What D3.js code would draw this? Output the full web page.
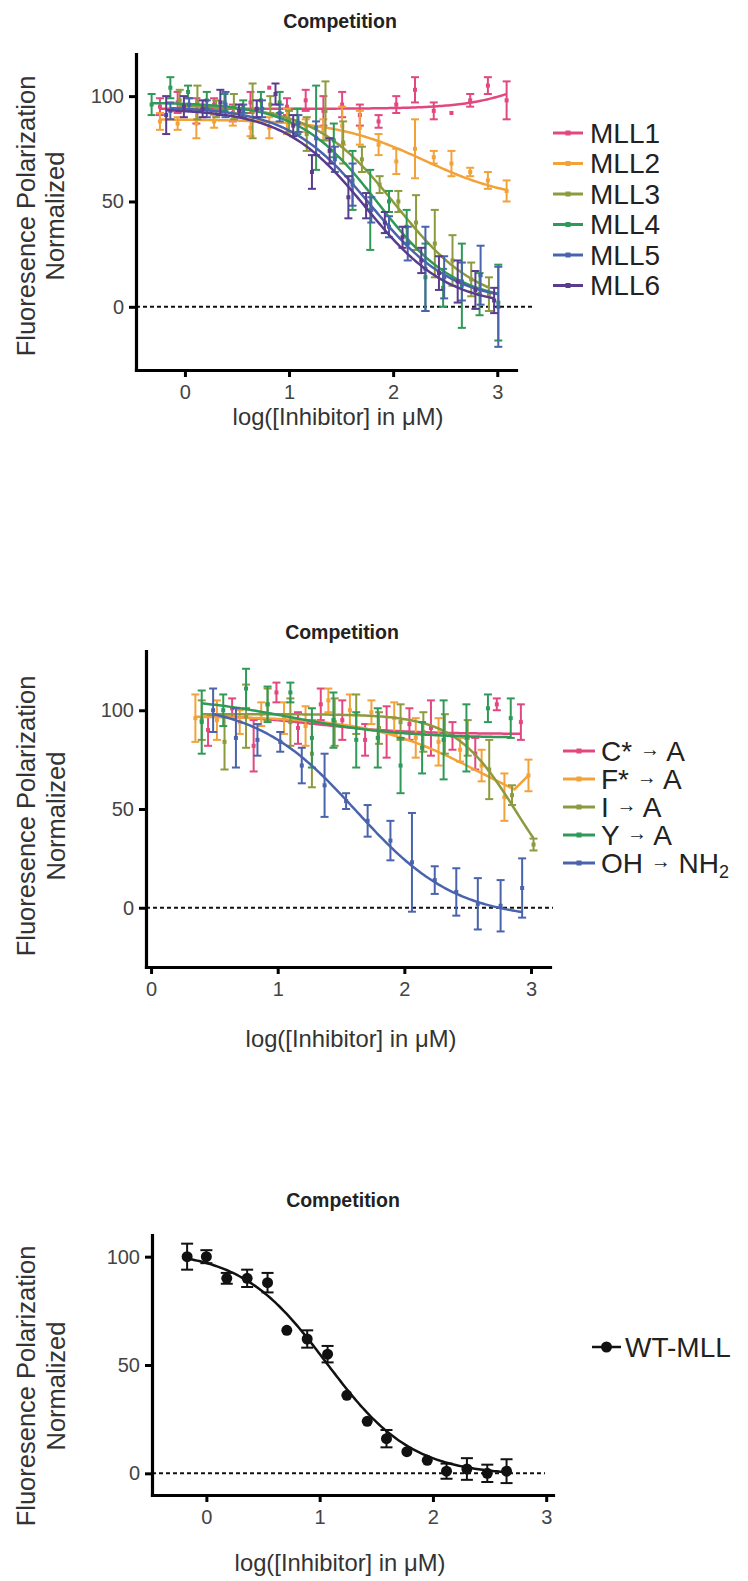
<!DOCTYPE html>
<html>
<head>
<meta charset="utf-8">
<script src="https://cdn.jsdelivr.net/npm/d3@7"></script>
<style>
  html, body { margin: 0; padding: 0; background: #fff; }
  svg { display: block; font-family: "Liberation Sans", Arial, Helvetica, sans-serif; }
</style>
</head>
<body>
<svg id="fig" width="748" height="1581"></svg>
<script>
// ---------- Panel A: MLL peptides ----------
const mllNames  = ["MLL1", "MLL2", "MLL3", "MLL4", "MLL5", "MLL6"];
const mllColors = ["#e2487f", "#f3a23a", "#8e9a3e", "#2f9a58", "#4a63ad", "#5a3c8e"];

const mll1X   = [-0.24, -0.07, 0.11, 0.28, 0.46, 0.63, 0.81, 0.98, 1.16, 1.33, 1.51, 1.68, 1.86, 2.03, 2.21, 2.39, 2.56, 2.74, 2.91, 3.09];
const mll1Y   = [95, 97, 93, 96, 92, 97, 104, 95, 98, 93, 96, 91, 88, 96, 103, 93, 92, 98, 105, 98];
const mll1Err = [4, 5, 6, 3, 4, 5, 0, 4, 5, 7, 6, 5, 3, 4, 6, 4, 0, 3, 4, 9];

const mll2X   = [-0.24, -0.07, 0.11, 0.28, 0.46, 0.63, 0.81, 0.98, 1.16, 1.33, 1.51, 1.68, 1.86, 2.03, 2.21, 2.39, 2.56, 2.74, 2.91, 3.09];
const mll2Y   = [88, 87, 87, 88, 89, 85, 85, 88, 86, 84, 86, 85, 77, 69, 75, 71, 68, 64, 60, 55];
const mll2Err = [4, 3, 7, 3, 3, 4, 5, 6, 3, 5, 9, 8, 5, 6, 14, 3, 6, 2, 4, 5];

const mll3X   = [-0.05, 0.12, 0.30, 0.47, 0.65, 0.82, 1.00, 1.17, 1.35, 1.52, 1.70, 1.87, 2.05, 2.22, 2.40, 2.57, 2.75, 2.92];
const mll3Y   = [98, 97, 94, 95, 93, 96, 88, 82, 93, 78, 70, 58, 50, 40, 30, 22, 13, 6];
const mll3Err = [5, 8, 4, 6, 13, 4, 5, 8, 14, 10, 6, 4, 5, 13, 16, 12, 8, 8];

const mll4X   = [-0.32, -0.14, 0.03, 0.21, 0.38, 0.56, 0.73, 0.91, 1.08, 1.26, 1.43, 1.61, 1.78, 1.96, 2.13, 2.31, 2.48, 2.66, 2.83, 3.01];
const mll4Y   = [96, 104, 102, 98, 97, 95, 98, 97, 88, 85, 79, 60, 46, 50, 38, 14, 9, 10, 6, 2];
const mll4Err = [5, 5, 3, 4, 4, 3, 4, 5, 6, 20, 8, 14, 19, 5, 8, 16, 9, 20, 10, 18];

const mll5X   = [-0.14, 0.04, 0.21, 0.39, 0.56, 0.74, 0.91, 1.09, 1.26, 1.44, 1.61, 1.79, 1.96, 2.14, 2.31, 2.49, 2.66, 2.84, 3.01];
const mll5Y   = [93, 96, 94, 96, 93, 94, 92, 87, 80, 70, 58, 46, 38, 30, 18, 14, 12, 15, 0];
const mll5Err = [4, 3, 4, 6, 3, 4, 4, 4, 8, 6, 10, 6, 5, 8, 20, 10, 9, 14, 19];

const mll6X   = [-0.18, -0.01, 0.17, 0.34, 0.52, 0.69, 0.87, 1.04, 1.22, 1.39, 1.57, 1.74, 1.92, 2.09, 2.27, 2.44, 2.62, 2.79, 2.97];
const mll6Y   = [91, 95, 94, 97, 93, 94, 101, 86, 64, 74, 52, 48, 40, 33, 22, 16, 12, 8, 3];
const mll6Err = [9, 5, 4, 6, 3, 4, 5, 5, 8, 6, 10, 6, 5, 5, 6, 8, 10, 9, 6];

// four-parameter logistic fits: [top, bottom, logIC50, hill]
const mllFitTop     = [94, 89, 96, 97, 95, 94];
const mllFitBottom  = [125, 50, 0, 2, 2, 0];
const mllFitLogIC50 = [3.5, 2.3, 2.03, 1.85, 1.78, 1.74];
const mllFitHill    = [1.3, 1.0, 1.1, 1.15, 1.1, 1.1];

// ---------- Panel B: point mutants ----------
const mutNames   = ["C*", "F*", "I", "Y", "OH"];
const mutTargets = ["A", "A", "A", "A", "NH"];
const mutColors  = ["#e2487f", "#f3a23a", "#8e9a3e", "#2f9a58", "#4a63ad"];

const cAX   = [0.45, 0.64, 0.81, 0.99, 1.16, 1.34, 1.51, 1.69, 1.86, 2.04, 2.21, 2.38, 2.56, 2.73, 2.92];
const cAY   = [90, 101, 82, 109, 91, 103, 95, 85, 89, 93, 91, 87, 78, 103, 94];
const cAErr = [8, 5, 13, 5, 8, 8, 10, 8, 13, 8, 14, 7, 8, 3, 9];

const fAX   = [0.35, 0.52, 0.70, 0.87, 1.05, 1.22, 1.40, 1.57, 1.74, 1.92, 2.09, 2.27, 2.44, 2.61, 2.79, 2.98];
const fAY   = [96, 95, 94, 98, 96, 92, 105, 100, 99, 96, 86, 84, 80, 72, 56, 67];
const fAErr = [12, 10, 6, 6, 8, 10, 6, 8, 6, 8, 10, 12, 6, 8, 12, 8];

const iAX   = [0.40, 0.58, 0.75, 0.92, 1.10, 1.27, 1.45, 1.62, 1.80, 1.97, 2.15, 2.32, 2.50, 2.67, 2.85, 3.02];
const iAY   = [95, 84, 97, 103, 94, 78, 94, 98, 91, 94, 89, 88, 86, 70, 57, 32];
const iAErr = [10, 14, 16, 8, 12, 17, 12, 10, 8, 9, 10, 10, 9, 15, 5, 3];

const yAX   = [0.40, 0.57, 0.75, 0.92, 1.10, 1.27, 1.44, 1.62, 1.79, 1.97, 2.14, 2.31, 2.49, 2.66, 2.84];
const yAY   = [94, 100, 111, 103, 109, 86, 95, 85, 86, 72, 81, 85, 86, 101, 96];
const yAErr = [16, 8, 10, 9, 5, 15, 14, 14, 15, 14, 13, 20, 17, 7, 10];

const ohX   = [0.49, 0.67, 0.84, 1.02, 1.19, 1.37, 1.54, 1.71, 1.89, 2.06, 2.24, 2.41, 2.58, 2.76, 2.93];
const ohY   = [100, 86, 85, 84, 72, 62, 54, 44, 34, 23, 14, 8, 2, 1, 10];
const ohErr = [11, 15, 8, 5, 9, 16, 4, 8, 10, 25, 7, 12, 13, 13, 15];

const mutFitTop     = [98, 97, 98, 107, 104];
const mutFitBottom  = [88, 40, 0, 86, -6];
const mutFitLogIC50 = [1.3, 2.6, 2.88, 1.1, 1.62];
const mutFitHill    = [1.2, 1.0, 1.8, 1.0, 1.1];

// ---------- Panel C: wild-type ----------
const wtName = "WT-MLL";
const wtX   = [-0.17, 0.00, 0.18, 0.36, 0.54, 0.71, 0.89, 1.07, 1.24, 1.42, 1.59, 1.77, 1.95, 2.12, 2.30, 2.48, 2.65];
const wtY   = [100, 100, 90, 90, 88, 66, 62, 55, 36, 24, 16, 10, 6, 1, 2, 0, 1];
const wtErr = [6, 3, 2.5, 4, 4.5, 0, 4, 3.8, 0, 0, 4, 0, 0, 3.5, 5, 4, 5.5];
const wtFit = [103, -1, 1.06, 1.15];

const xTicks = [0, 1, 2, 3];
const yTicks = [0, 50, 100];
const titleText = "Competition";
const yTitle1 = "Fluoresence Polarization";
const yTitle2 = "Normalized";
const xTitle = "log([Inhibitor] in \u03BCM)";

// ---------- drawing ----------
const svg = d3.select("#fig");
const fourPL = (x, top, bottom, c, h) => bottom + (top - bottom) / (1 + Math.pow(10, (x - c) * h));

function drawPanel(p) {
  const g = svg.append("g");
  const x = d3.scaleLinear().domain(p.xDomain).range([p.left, p.right]);
  const y = d3.scaleLinear().domain(p.yDomain).range([p.bottom, p.top]);

  g.append("text")
    .attr("x", p.titleX).attr("y", p.titleY)
    .attr("text-anchor", "middle").attr("dominant-baseline", "central")
    .attr("font-weight", "bold").attr("font-size", 19.5).attr("fill", "#222")
    .text(titleText);

  // dashed baseline at zero
  g.append("line")
    .attr("x1", p.left).attr("x2", p.zeroEnd)
    .attr("y1", y(0)).attr("y2", y(0))
    .attr("stroke", "#111").attr("stroke-width", 2)
    .attr("stroke-dasharray", "4,3");

  p.series.forEach(s => {
    // fitted curve
    const x0 = s.x[0];
    const x1 = s.fitEnd !== undefined ? s.fitEnd : s.x[s.x.length - 1];
    const pts = d3.range(0, 161).map(i => {
      const xv = x0 + (x1 - x0) * i / 160;
      return [xv, fourPL(xv, s.fit[0], s.fit[1], s.fit[2], s.fit[3])];
    });
    if (s.joinLast) pts.push([s.x[s.x.length - 1], s.y[s.y.length - 1]]);
    g.append("path").datum(pts)
      .attr("d", d3.line().x(d => x(d[0])).y(d => y(d[1])))
      .attr("fill", "none").attr("stroke", s.color)
      .attr("stroke-width", p.curveWidth).attr("stroke-linejoin", "round");

    const rows = s.x.map((xv, i) => ({ x: xv, y: s.y[i], e: s.err[i] }));
    const eb = g.append("g").attr("stroke", s.color).attr("stroke-width", p.errWidth);
    rows.filter(d => d.e > 0).forEach(d => {
      eb.append("line").attr("x1", x(d.x)).attr("x2", x(d.x))
        .attr("y1", y(d.y - d.e)).attr("y2", y(d.y + d.e));
      [d.y - d.e, d.y + d.e].forEach(v => {
        eb.append("line").attr("x1", x(d.x) - p.capHalf).attr("x2", x(d.x) + p.capHalf)
          .attr("y1", y(v)).attr("y2", y(v));
      });
    });

    if (p.marker === "circle") {
      g.append("g").selectAll("circle").data(rows).join("circle")
        .attr("cx", d => x(d.x)).attr("cy", d => y(d.y)).attr("r", 5.5)
        .attr("fill", s.color);
    } else {
      g.append("g").selectAll("rect").data(rows).join("rect")
        .attr("x", d => x(d.x) - 2).attr("y", d => y(d.y) - 2)
        .attr("width", 4).attr("height", 4).attr("fill", s.color);
    }
  });

  // axes
  const yAxis = g.append("g").attr("transform", `translate(${p.left},0)`)
    .call(d3.axisLeft(y).tickValues(yTicks).tickFormat(d3.format("d"))
      .tickSize(7).tickSizeOuter(0).tickPadding(5));
  const xAxis = g.append("g").attr("transform", `translate(0,${p.bottom})`)
    .call(d3.axisBottom(x).tickValues(xTicks).tickFormat(d3.format("d"))
      .tickSize(7).tickSizeOuter(0).tickPadding(8));
  [yAxis, xAxis].forEach(a => {
    a.select(".domain").attr("stroke", "#000").attr("stroke-width", 3.2).attr("stroke-linecap", "square");
    a.selectAll(".tick line").attr("stroke", "#000").attr("stroke-width", 3);
    a.selectAll(".tick text").attr("font-size", 20).attr("fill", "#444")
      .attr("font-family", "'Liberation Sans', Arial, sans-serif");
  });

  // axis titles
  [[p.yTitleX1, yTitle1], [p.yTitleX2, yTitle2]].forEach(([tx, label]) => {
    g.append("text")
      .attr("transform", `translate(${tx},${p.yTitleY}) rotate(-90)`)
      .attr("text-anchor", "middle").attr("dominant-baseline", "central")
      .attr("font-size", 25.5).attr("fill", "#333").text(label);
  });
  g.append("text")
    .attr("x", p.xTitleX).attr("y", p.xTitleY)
    .attr("text-anchor", "middle").attr("dominant-baseline", "central")
    .attr("font-size", 23.8).attr("fill", "#333").text(xTitle);

  // legend
  p.series.forEach((s, i) => {
    const ly = p.legendY + i * p.legendStep;
    const lg = g.append("g");
    lg.append("line").attr("x1", p.legendX1).attr("x2", p.legendX2)
      .attr("y1", ly).attr("y2", ly).attr("stroke", s.color).attr("stroke-width", p.marker === "circle" ? 2.5 : 3);
    const mx = (p.legendX1 + p.legendX2) / 2;
    if (p.marker === "circle") {
      lg.append("circle").attr("cx", mx).attr("cy", ly).attr("r", 5.5).attr("fill", s.color);
    } else {
      lg.append("rect").attr("x", mx - 2.5).attr("y", ly - 2.5).attr("width", 5).attr("height", 5).attr("fill", s.color);
    }
    const t = lg.append("text").attr("x", p.legendTextX).attr("y", ly)
      .attr("dominant-baseline", "central").attr("font-size", 28).attr("fill", "#222");
    s.label(t);
  });
}

const simpleLabel = name => t => t.text(name);
const arrowLabel = (from, to, sub) => t => {
  t.append("tspan").text(from + " ");
  t.append("tspan").attr("font-size", 20).attr("dy", -2).text("\u2192");
  t.append("tspan").attr("dy", 2).text(" " + to);
  if (sub) t.append("tspan").attr("font-size", 18).attr("dy", 9).text(sub);
};

const mllX = [mll1X, mll2X, mll3X, mll4X, mll5X, mll6X];
const mllY = [mll1Y, mll2Y, mll3Y, mll4Y, mll5Y, mll6Y];
const mllErr = [mll1Err, mll2Err, mll3Err, mll4Err, mll5Err, mll6Err];

drawPanel({
  left: 136, right: 516, top: 54, bottom: 370,
  xDomain: [-0.47, 3.18], yDomain: [-30, 120],
  titleX: 340, titleY: 21, xTitleX: 338, xTitleY: 416,
  yTitleX1: 26, yTitleX2: 55, yTitleY: 216, zeroEnd: 535,
  curveWidth: 2.5, errWidth: 2, capHalf: 4, marker: "square",
  legendY: 133, legendStep: 30.5, legendX1: 553, legendX2: 583, legendTextX: 590,
  series: mllNames.map((n, i) => ({
    x: mllX[i], y: mllY[i], err: mllErr[i], color: mllColors[i],
    fit: [mllFitTop[i], mllFitBottom[i], mllFitLogIC50[i], mllFitHill[i]],
    label: simpleLabel(n)
  }))
});

const mutX = [cAX, fAX, iAX, yAX, ohX];
const mutY = [cAY, fAY, iAY, yAY, ohY];
const mutErr = [cAErr, fAErr, iAErr, yAErr, ohErr];

drawPanel({
  left: 146, right: 550, top: 651, bottom: 967,
  xDomain: [-0.04, 3.15], yDomain: [-30, 130],
  titleX: 342, titleY: 632, xTitleX: 351, xTitleY: 1038,
  yTitleX1: 26, yTitleX2: 56, yTitleY: 816, zeroEnd: 553,
  curveWidth: 2.5, errWidth: 2, capHalf: 4, marker: "square",
  legendY: 751, legendStep: 28, legendX1: 563, legendX2: 595, legendTextX: 601,
  series: mutNames.map((n, i) => ({
    x: mutX[i], y: mutY[i], err: mutErr[i], color: mutColors[i],
    fit: [mutFitTop[i], mutFitBottom[i], mutFitLogIC50[i], mutFitHill[i]],
    fitEnd: i === 1 ? 2.87 : undefined, joinLast: i === 1,
    label: arrowLabel(n, mutTargets[i], i === 4 ? "2" : null)
  }))
});

drawPanel({
  left: 152, right: 553, top: 1235, bottom: 1495,
  xDomain: [-0.48, 3.06], yDomain: [-10, 110],
  titleX: 343, titleY: 1200, xTitleX: 340, xTitleY: 1562,
  yTitleX1: 26, yTitleX2: 56, yTitleY: 1386, zeroEnd: 545,
  curveWidth: 2.5, errWidth: 2, capHalf: 6, marker: "circle",
  legendY: 1347, legendStep: 28, legendX1: 592, legendX2: 621, legendTextX: 625,
  series: [{
    x: wtX, y: wtY, err: wtErr, color: "#111",
    fit: wtFit, label: simpleLabel(wtName)
  }]
});
</script>
</body>
</html>
